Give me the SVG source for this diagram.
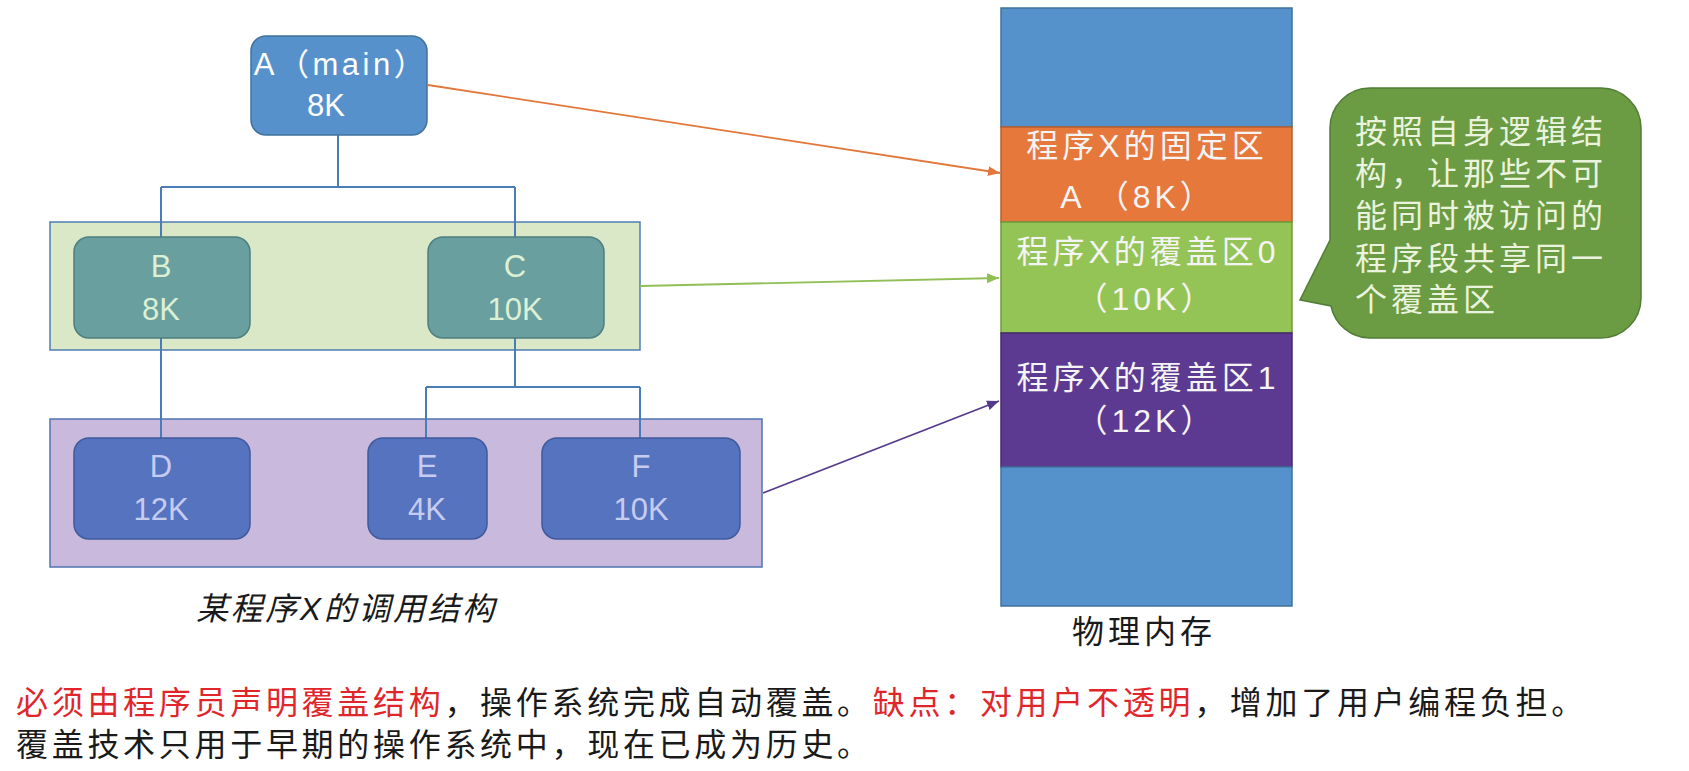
<svg xmlns="http://www.w3.org/2000/svg" width="1689" height="771" viewBox="0 0 1689 771">
<defs>
<style>
.lat{font-family:"Liberation Sans","Noto Sans CJK SC",sans-serif;font-size:31px;text-anchor:middle}
.cjk{font-family:"Liberation Sans","Noto Sans CJK SC",sans-serif;font-size:32px;letter-spacing:4px}
.mem{text-anchor:middle;fill:#f4f4f4}
.conn{stroke:#4a7cb8;stroke-width:2;fill:none}
.arr{stroke-width:1.8;fill:none}
.blk{fill:#1a1a1a}
.red{fill:#e0262b}
</style>
<marker id="mo" viewBox="0 0 12 10" refX="12" refY="5" markerWidth="12" markerHeight="10" markerUnits="userSpaceOnUse" orient="auto"><path d="M0,0 L12,5 L0,10 Z" fill="#e2773b"/></marker>
<marker id="mg" viewBox="0 0 12 10" refX="12" refY="5" markerWidth="12" markerHeight="10" markerUnits="userSpaceOnUse" orient="auto"><path d="M0,0 L12,5 L0,10 Z" fill="#8fbf55"/></marker>
<marker id="mp" viewBox="0 0 12 10" refX="12" refY="5" markerWidth="12" markerHeight="10" markerUnits="userSpaceOnUse" orient="auto"><path d="M0,0 L12,5 L0,10 Z" fill="#553a8c"/></marker>
</defs>
<rect width="1689" height="771" fill="#ffffff"/>

<g id="group-overlay0">
<rect x="50" y="222" width="590" height="128" fill="#dae8c7" stroke="#4f7db5" stroke-width="1.5"/>
</g>
<g id="group-overlay1">
<rect x="50" y="419" width="712" height="148" fill="#c9b9dc" stroke="#4f74b0" stroke-width="1.5"/>
</g>

<g id="connectors">
<path class="conn" d="M338,135 V187 M161,187 H515 M161,187 V237 M515,187 V237"/>
<path class="conn" d="M161,338 V438 M515,338 V387 M426,387 H640 M426,387 V438 M640,387 V438"/>
<line class="arr" x1="428" y1="85" x2="1000" y2="173" stroke="#e2773b" marker-end="url(#mo)"/>
<line class="arr" x1="640" y1="286" x2="999" y2="278" stroke="#8fbf55" marker-end="url(#mg)"/>
<line class="arr" x1="763" y1="493" x2="999" y2="401" stroke="#553a8c" marker-end="url(#mp)"/>
</g>

<g id="node-A">
<rect x="251" y="36" width="176" height="99" rx="15" fill="#5791cc" stroke="#41719c" stroke-width="1.5"/>
<text class="lat" x="341" y="75" fill="#ffffff" style="letter-spacing:3.5px">A（main）</text>
<text class="lat" x="326" y="116" fill="#ffffff">8K</text>
</g>
<g id="node-B">
<rect x="74" y="237" width="176" height="101" rx="15" fill="#699f9f" stroke="#4d7f80" stroke-width="1.5"/>
<text class="lat" x="161" y="277" fill="#dcf0d4">B</text>
<text class="lat" x="161" y="320" fill="#dcf0d4">8K</text>
</g>
<g id="node-C">
<rect x="428" y="237" width="176" height="101" rx="15" fill="#699f9f" stroke="#4d7f80" stroke-width="1.5"/>
<text class="lat" x="515" y="277" fill="#dcf0d4">C</text>
<text class="lat" x="515" y="320" fill="#dcf0d4">10K</text>
</g>
<g id="node-D">
<rect x="74" y="438" width="176" height="101" rx="15" fill="#5673bf" stroke="#3f5a9c" stroke-width="1.5"/>
<text class="lat" x="161" y="477" fill="#c6ccf0">D</text>
<text class="lat" x="161" y="520" fill="#c6ccf0">12K</text>
</g>
<g id="node-E">
<rect x="368" y="438" width="119" height="101" rx="15" fill="#5673bf" stroke="#3f5a9c" stroke-width="1.5"/>
<text class="lat" x="427" y="477" fill="#c6ccf0">E</text>
<text class="lat" x="427" y="520" fill="#c6ccf0">4K</text>
</g>
<g id="node-F">
<rect x="542" y="438" width="198" height="101" rx="15" fill="#5673bf" stroke="#3f5a9c" stroke-width="1.5"/>
<text class="lat" x="641" y="477" fill="#c6ccf0">F</text>
<text class="lat" x="641" y="520" fill="#c6ccf0">10K</text>
</g>

<g id="caption-left">
<text class="cjk blk" x="196" y="620" font-style="italic" style="letter-spacing:2.6px">某程序X的调用结构</text>
</g>

<g id="memory">
<rect x="1001" y="8" width="291" height="119" fill="#5592cb" stroke="#41719c" stroke-width="1.5"/>
<rect x="1001" y="127" width="291" height="95" fill="#e6783c" stroke="#b85f2c" stroke-width="1.5"/>
<rect x="1001" y="222" width="291" height="111" fill="#94c455" stroke="#6f9a3c" stroke-width="1.5"/>
<rect x="1001" y="333" width="291" height="134" fill="#5c3a92" stroke="#46296f" stroke-width="1.5"/>
<rect x="1001" y="467" width="291" height="139" fill="#5592cb" stroke="#41719c" stroke-width="1.5"/>
<text class="cjk mem" x="1147" y="157">程序X的固定区</text>
<text class="cjk mem" x="1138" y="208">A （8K）</text>
<text class="cjk mem" x="1148" y="263" fill="#f0f6e6">程序X的覆盖区0</text>
<text class="cjk mem" x="1146" y="310">（10K）</text>
<text class="cjk mem" x="1148" y="389" fill="#ece6f6">程序X的覆盖区1</text>
<text class="cjk mem" x="1146" y="432">（12K）</text>
<text class="cjk blk" x="1144" y="643" text-anchor="middle">物理内存</text>
</g>

<g id="callout">
<path d="M1370,88 H1601 A40,40 0 0 1 1641,128 V298 A40,40 0 0 1 1601,338 H1370 A40,40 0 0 1 1331,306 L1300,300 L1330,240 V128 A40,40 0 0 1 1370,88 Z" fill="#6b9b42" stroke="#527d37" stroke-width="1.5"/>
<g class="cjk" fill="#eaf3de">
<text x="1355" y="143">按照自身逻辑结</text>
<text x="1355" y="185">构，让那些不可</text>
<text x="1355" y="227">能同时被访问的</text>
<text x="1355" y="270">程序段共享同一</text>
<text x="1355" y="311">个覆盖区</text>
</g>
</g>

<g id="notes">
<text class="cjk" x="16" y="714" style="letter-spacing:3.7px"><tspan class="red">必须由程序员声明覆盖结构</tspan><tspan class="blk">，操作系统完成自动覆盖。</tspan><tspan class="red">缺点：对用户不透明</tspan><tspan class="blk">，增加了用户编程负担。</tspan></text>
<text class="cjk blk" x="16" y="756" style="letter-spacing:3.7px">覆盖技术只用于早期的操作系统中，现在已成为历史。</text>
</g>
</svg>
